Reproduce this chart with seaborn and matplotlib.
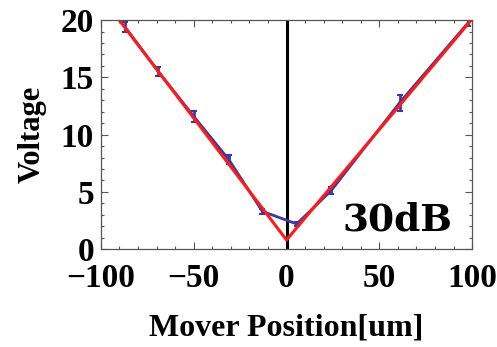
import numpy as np
import pandas as pd
import matplotlib
matplotlib.use("Agg")
import matplotlib.pyplot as plt
import seaborn as sns
from matplotlib.ticker import MultipleLocator

# measured points
position = [-87, -69, -50, -31, -13, 5.5, 24, 61, 98]
voltage = [19.4, 15.5, 11.6, 7.8, 3.3, 2.2, 5.1, 12.8, 19.8]
voltage_err = [0.4, 0.4, 0.5, 0.4, 0.2, 0.2, 0.3, 0.7, 0.3]

# V-shaped fit
fit_x = [-92, 0, 100]
fit_y = [20.4, 0.8, 20.1]

x_ticks = [-100, -50, 0, 50, 100]
x_labels = ["\u2212100", "\u221250", "0", "50", "100"]
y_ticks = [0, 5, 10, 15, 20]

sns.set_theme(style="white")
plt.rcParams["font.family"] = ["Liberation Serif", "DejaVu Serif"]
plt.rcParams["text.color"] = "black"

fig = plt.figure(figsize=(4.97, 3.47), dpi=100)
ax = fig.add_axes([0.203, 0.282, 0.747, 0.660])

df = pd.DataFrame({"x": position, "y": voltage})
sns.lineplot(data=df, x="x", y="y", ax=ax, color="#3b3b9e", lw=2, sort=True)
ax.errorbar(position, voltage, yerr=voltage_err, fmt="none", ecolor="#3b3b9e",
            elinewidth=2, capsize=2.5, capthick=1.5)
sns.lineplot(x=fit_x, y=fit_y, ax=ax, color="#ff1a1a", lw=2.2)
ax.axvline(0, color="black", lw=2.2, zorder=1)

ax.set_xlim(-100, 100)
ax.set_ylim(0, 20)
ax.set_xticks(x_ticks)
ax.set_xticklabels(x_labels, fontweight="bold")
ax.set_yticks(y_ticks)
ax.set_yticklabels([str(v) for v in y_ticks], fontweight="bold")
ax.xaxis.set_minor_locator(MultipleLocator(10))
ax.yaxis.set_minor_locator(MultipleLocator(1))
ax.tick_params(which="both", direction="in", top=True, right=True, bottom=True, left=True,
               color="#555555", width=0.8, labelcolor="black")
ax.tick_params(which="major", length=5, labelsize=24)
ax.tick_params(axis="x", which="major", pad=10)
ax.tick_params(axis="y", which="major", pad=5)
ax.tick_params(which="minor", length=2.5)
for s in ax.spines.values():
    s.set_color("#555555")
    s.set_linewidth(0.9)

ax.set_xlabel("Mover Position[um]", fontsize=23, fontweight="bold", labelpad=14, color="black")
ax.set_ylabel("Voltage", fontsize=22, fontweight="bold", labelpad=10, color="black")
ax.text(0.946, 0.083, "30dB", transform=ax.transAxes, ha="right", va="baseline",
        fontsize=27, fontweight="heavy", family="DejaVu Serif", color="black")

fig.savefig("out.png", dpi=100)
